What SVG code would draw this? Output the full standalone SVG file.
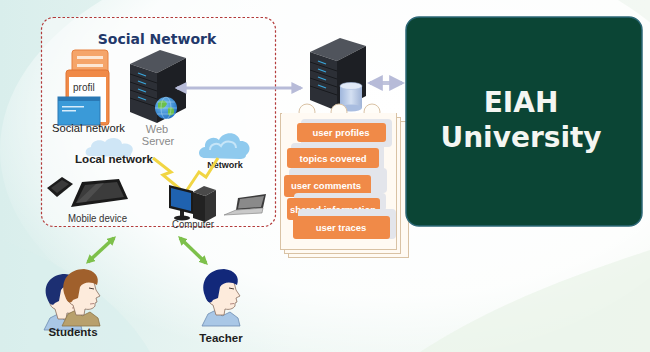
<svg xmlns="http://www.w3.org/2000/svg" width="650" height="352" viewBox="0 0 650 352">
  <defs>
    <linearGradient id="bg" x1="0" y1="0" x2="1" y2="0">
      <stop offset="0" stop-color="#d9eeec"/>
      <stop offset="0.45" stop-color="#eef7f4"/>
      <stop offset="1" stop-color="#f3f8f3"/>
    </linearGradient>
    <radialGradient id="glow" cx="0.55" cy="0.42" r="0.6">
      <stop offset="0" stop-color="#ffffff" stop-opacity="1"/>
      <stop offset="0.7" stop-color="#ffffff" stop-opacity="0.85"/>
      <stop offset="1" stop-color="#ffffff" stop-opacity="0"/>
    </radialGradient>
    <linearGradient id="cyl" x1="0" y1="0" x2="1" y2="0">
      <stop offset="0" stop-color="#9fb6dc"/>
      <stop offset="0.5" stop-color="#d4e0f2"/>
      <stop offset="1" stop-color="#9fb3d6"/>
    </linearGradient>
    <radialGradient id="globeFill" cx="0.4" cy="0.35" r="0.7">
      <stop offset="0" stop-color="#7cc4f0"/>
      <stop offset="1" stop-color="#1f6fc4"/>
    </radialGradient>
    <marker id="lavHead" viewBox="0 0 10 10" refX="8" refY="5" markerWidth="4" markerHeight="4" orient="auto-start-reverse">
      <path d="M0,0 L10,5 L0,10 Z" fill="#b7bbd8"/>
    </marker>
    <marker id="greenHead" viewBox="0 0 10 10" refX="7" refY="5" markerWidth="2.6" markerHeight="2.6" orient="auto-start-reverse">
      <path d="M0,0 L10,5 L0,10 Z" fill="#7dc04b"/>
    </marker>
    <!-- rack server tower, local box 56 x 73 -->
    <g id="server">
      <polygon points="0,14 30,0 56,8 27,23" fill="#50545c"/>
      <polygon points="0,14 27,23 27,73 0,62" fill="#2c2f36"/>
      <polygon points="27,23 56,8 56,58 27,73" fill="#1d1f24"/>
      <g stroke="#181a1e" stroke-width="1">
        <line x1="0" y1="24" x2="27" y2="33"/>
        <line x1="0" y1="32" x2="27" y2="41"/>
        <line x1="0" y1="40" x2="27" y2="49"/>
        <line x1="0" y1="48" x2="27" y2="57"/>
      </g>
      <g stroke="#3aa6dc" stroke-width="1.3">
        <line x1="8" y1="23" x2="16" y2="26"/>
        <line x1="8" y1="31" x2="16" y2="34"/>
        <line x1="8" y1="39" x2="16" y2="42"/>
        <line x1="8" y1="47" x2="16" y2="50"/>
      </g>
    </g>
    <!-- head in profile, facing right, local box 46 x 58 -->
    <g id="shirt">
      <path d="M4,58 L10,46 L18,42 L24,48 L32,44 L40,50 L42,58 Z" fill="#a9c7e6" stroke="#6c8cb0" stroke-width="0.8"/>
    </g>
    <g id="face">
      <path d="M13,14 C14,5 32,3 36,14 L38,22 L42,28 L38,30 L39,34 L37,35 L37,38 C35,41 31,42 27,41 L26,47 L18,47 L15,37 C9,35 8,27 12,23 Z" fill="#fdebdc" stroke="#8c6e5e" stroke-width="0.8"/>
      <path d="M31,20 L36,21" stroke="#4a3a33" stroke-width="1"/>
      <path d="M32,36 L36,35.5" stroke="#a0706a" stroke-width="0.8"/>
    </g>
    <style>
      .lbl { font-family: "Liberation Sans", Arial, sans-serif; }
      .bold { font-weight: bold; }
      .title { font-family: "DejaVu Sans", Verdana, sans-serif; font-weight: bold; }
      .tag { fill: #f08a48; }
      .tagShade { fill: #e3e5eb; }
      .tagTxt { font-family: "Liberation Sans", Arial, sans-serif; font-size: 9.5px; fill: #ffffff; font-weight: bold; text-anchor: middle; }
      .page { fill: #fffaf3; stroke: #d9c2a4; stroke-width: 1; }
      .bolt { fill: none; stroke: #f1d543; stroke-width: 3; stroke-linejoin: miter; }
    </style>
  </defs>

  <!-- background -->
  <rect width="650" height="352" fill="url(#bg)"/>
  <ellipse cx="360" cy="150" rx="360" ry="215" fill="url(#glow)"/>
  <path d="M420,352 C500,300 590,270 650,250 L650,352 Z" fill="#e9f3e8" opacity="0.7"/>
  <path d="M0,240 C60,260 120,300 150,352 L0,352 Z" fill="#d8eeec" opacity="0.6"/>

  <!-- social network frame -->
  <g id="social-network">
    <rect x="41.5" y="17.5" width="234" height="209" rx="12" fill="#fdfefd" fill-opacity="0.55" stroke="#b33a3a" stroke-width="1.2" stroke-dasharray="2.5 2"/>
    <text class="title" x="157" y="44" font-size="14" fill="#22386a" text-anchor="middle">Social Network</text>
  </g>

  <!-- profile pages -->
  <g id="profile">
    <rect x="72" y="50" width="36" height="34" rx="3" fill="#f5a56a" stroke="#e6803e" stroke-width="1"/>
    <rect x="77" y="56" width="26" height="3" fill="#fde7d4"/>
    <rect x="77" y="64" width="26" height="3" fill="#fde7d4"/>
    <rect x="66" y="70" width="43" height="55" rx="3" fill="#f08a48" stroke="#e07535" stroke-width="1"/>
    <rect x="69" y="77" width="37" height="45" fill="#ffffff"/>
    <text class="lbl" x="73" y="91" font-size="10" fill="#333">profil</text>
    <rect x="58" y="97" width="42" height="28" fill="#3a9ad8" stroke="#2a78b4" stroke-width="1"/>
    <rect x="58" y="97" width="42" height="4" fill="#2a78b4"/>
    <rect x="62" y="106" width="22" height="1.5" fill="#d8ecfa"/>
    <rect x="62" y="110" width="14" height="1.5" fill="#d8ecfa"/>
    <text class="lbl" x="52" y="132" font-size="11" fill="#222" textLength="73" lengthAdjust="spacingAndGlyphs">Social network</text>
  </g>

  <!-- web server -->
  <g id="web-server">
    <use href="#server" transform="translate(130,50)"/>
    <circle cx="166" cy="108" r="11" fill="url(#globeFill)"/>
    <path d="M158,103 C161,99 166,100 167,104 C165,108 161,110 158,108 Z M168,108 C171,106 175,108 174,113 C171,117 167,116 168,112 Z" fill="#6cc04a"/>
    <g fill="none" stroke="#cfe8fb" stroke-width="0.5" opacity="0.8">
      <ellipse cx="166" cy="108" rx="5" ry="11"/>
      <line x1="155" y1="108" x2="177" y2="108"/>
      <line x1="157" y1="102" x2="175" y2="102"/>
      <line x1="157" y1="114" x2="175" y2="114"/>
    </g>
    <text class="lbl" x="157" y="133" font-size="11" fill="#8a8a8a" text-anchor="middle">Web</text>
    <text class="lbl" x="158" y="145" font-size="11" fill="#8a8a8a" text-anchor="middle">Server</text>
  </g>

  <!-- local network -->
  <g id="local-network">
    <path d="M90,156 C84,156 84,148 91,147 C91,141 100,138 105,142 C109,136 121,137 122,144 C130,142 136,148 131,154 C131,157 128,157 126,157 Z" fill="#cfe6f6"/>
    <text class="lbl bold" x="75" y="163" font-size="11.5" fill="#222" textLength="78" lengthAdjust="spacingAndGlyphs">Local network</text>
  </g>

  <!-- internet cloud -->
  <g id="network">
    <path d="M205,158 C197,158 197,148 205,147 C204,139 214,135 219,140 C223,131 238,131 240,141 C249,140 253,150 246,155 C246,158 243,159 240,159 Z" fill="#8fcaee"/>
    <path d="M210,150 C210,144 217,142 221,146 C225,139 236,141 236,148" fill="none" stroke="#c6e5f8" stroke-width="2"/>
    <text class="lbl bold" x="225" y="168" font-size="9" fill="#222" text-anchor="middle">Network</text>
  </g>

  <!-- mobile devices -->
  <g id="mobile-device">
    <polygon points="47,188 62,177 73,184 57,197" fill="#1c1c1c"/>
    <polygon points="51,188 62,180 69,184 57,193" fill="#3a3a3a"/>
    <polygon points="82,182 119,179 128,199 71,207" fill="#1a1a1a"/>
    <polygon points="85,185 117,182 124,197 76,203" fill="#3c3c3c"/>
    <polygon points="76,203 96,184 104,183 86,202" fill="#5a5a5a" opacity="0.6"/>
    <text class="lbl" x="68" y="222" font-size="10.5" fill="#333" textLength="59" lengthAdjust="spacingAndGlyphs">Mobile device</text>
  </g>

  <!-- lightning links -->
  <g id="links">
    <polyline class="bolt" points="153,158 171,172 163,175 180,189"/>
    <polyline class="bolt" points="187,190 199,172 206,177 218,158"/>
  </g>

  <!-- computer -->
  <g id="computer">
    <rect x="180" y="210" width="4" height="7" fill="#222"/>
    <ellipse cx="182" cy="218" rx="8" ry="2.5" fill="#1f1f1f"/>
    <polygon points="169,185 193,191 193,214 169,208" fill="#1a1a1a"/>
    <polygon points="171,188 191,193 191,211 171,206" fill="#1f62b0"/>
    <polygon points="193,192 204,186 216,190 205,196" fill="#4a4a4a"/>
    <polygon points="193,192 205,196 205,222 193,218" fill="#222"/>
    <polygon points="205,196 216,190 216,216 205,222" fill="#333"/>
    <text class="lbl" x="172" y="228" font-size="10" fill="#333" textLength="42" lengthAdjust="spacingAndGlyphs">Computer</text>
  </g>

  <!-- laptop -->
  <g id="laptop">
    <polygon points="238,198 266,194 263,208 236,210" fill="#3c3c3c"/>
    <polygon points="240,199 264,196 261,207 238,208.5" fill="#8a8a8a"/>
    <polygon points="236,210 263,208 262,213 224,215" fill="#c9c9c9" stroke="#7a7a7a" stroke-width="0.6"/>
  </g>

  <!-- data server -->
  <g id="data-server">
    <use href="#server" transform="translate(310,38)"/>
    <rect x="340" y="86" width="22" height="22" fill="url(#cyl)"/>
    <ellipse cx="351" cy="108" rx="11" ry="3.5" fill="#a9bde0"/>
    <ellipse cx="351" cy="86" rx="11" ry="3.5" fill="#e2eaf7" stroke="#a9bde0" stroke-width="0.6"/>
  </g>

  <!-- stacked data pages -->
  <g id="user-data">
    <rect class="page" x="288.5" y="121.5" width="120" height="136"/>
    <rect class="page" x="284.5" y="117.5" width="116" height="136"/>
    <rect class="page" x="280.5" y="113.5" width="116" height="136"/>
    <circle cx="307" cy="112" r="8" fill="#fffdf8" stroke="#d9c2a4"/>
    <circle cx="339" cy="112" r="8" fill="#fffdf8" stroke="#d9c2a4"/>
    <circle cx="372" cy="112" r="8" fill="#fffdf8" stroke="#d9c2a4"/>
    <rect x="282" y="113" width="114" height="8" fill="#fffaf3"/>

    <rect class="tagShade" x="301" y="119" width="91" height="28" rx="4"/>
    <rect class="tag" x="297" y="123" width="89" height="19" rx="3"/>
    <text class="tagTxt" x="341" y="136">user profiles</text>

    <rect class="tagShade" x="291" y="143" width="93" height="37" rx="4"/>
    <rect class="tag" x="287" y="148" width="92" height="20" rx="3"/>
    <text class="tagTxt" x="333" y="161.5">topics covered</text>

    <rect class="tagShade" x="289" y="168" width="98" height="25" rx="4"/>
    <rect class="tag" x="284" y="175" width="87" height="22" rx="3"/>
    <text class="tagTxt" x="326" y="189">user comments</text>

    <rect class="tagShade" x="294" y="193" width="92" height="18" rx="4"/>
    <rect class="tag" x="287" y="198" width="93" height="22" rx="3"/>
    <text class="tagTxt" x="333" y="213">shared information</text>

    <rect class="tagShade" x="298" y="209" width="98" height="30" rx="4"/>
    <rect class="tag" x="293" y="216" width="97" height="23" rx="3"/>
    <text class="tagTxt" x="341" y="231">user traces</text>
  </g>

  <!-- EIAH University -->
  <g id="eiah-university">
    <rect x="406" y="17" width="236" height="209" rx="13" fill="#0b4535" stroke="#2d6877" stroke-width="1.5"/>
    <text class="title" x="521" y="112" font-size="28" fill="#f4f6f2" text-anchor="middle">EIAH</text>
    <text class="title" x="521" y="147" font-size="28" fill="#f4f6f2" text-anchor="middle">University</text>
  </g>

  <!-- students -->
  <g id="students">
    <g transform="translate(40,272)">
      <use href="#shirt"/>
      <use href="#face"/>
      <path d="M7,26 C2,12 12,2 25,2 C35,3 40,9 38,16 C32,12 24,13 21,18 L19,29 L15,31 C12,35 9,32 7,26 Z" fill="#1c2f72"/>
    </g>
    <g transform="translate(58,268)">
      <path d="M4,58 L10,46 L18,42 L24,48 L32,44 L40,50 L42,58 Z" fill="#b8a06c" stroke="#8a7448" stroke-width="0.8"/>
      <use href="#face"/>
      <path d="M7,28 C1,12 12,1 26,1 C37,2 42,9 39,17 C33,13 25,14 22,19 L20,30 L15,32 C12,37 9,34 7,28 Z" fill="#a0602c"/>
    </g>
    <text class="lbl bold" x="73" y="336" font-size="11.5" fill="#1e1e1e" text-anchor="middle">Students</text>
  </g>

  <!-- teacher -->
  <g id="teacher">
    <g transform="translate(198,268)">
      <use href="#shirt"/>
      <use href="#face"/>
      <path d="M7,28 C1,12 12,1 26,1 C37,2 42,9 39,17 C33,13 25,14 22,19 L20,30 L15,32 C12,37 9,34 7,28 Z" fill="#12287a"/>
    </g>
    <text class="lbl bold" x="221" y="342" font-size="11.5" fill="#1e1e1e" text-anchor="middle">Teacher</text>
  </g>

  <!-- connectors -->
  <g id="connectors" fill="none">
    <line x1="177" y1="88" x2="301" y2="88" stroke="#b7bbd8" stroke-width="3" marker-start="url(#lavHead)" marker-end="url(#lavHead)"/>
    <line x1="370" y1="83" x2="402" y2="83" stroke="#c0c4dc" stroke-width="4" marker-start="url(#lavHead)" marker-end="url(#lavHead)"/>
    <line x1="88" y1="262" x2="114" y2="238" stroke="#7dc04b" stroke-width="3.5" marker-start="url(#greenHead)" marker-end="url(#greenHead)"/>
    <line x1="180" y1="238" x2="206" y2="263" stroke="#7dc04b" stroke-width="3.5" marker-start="url(#greenHead)" marker-end="url(#greenHead)"/>
  </g>
</svg>
